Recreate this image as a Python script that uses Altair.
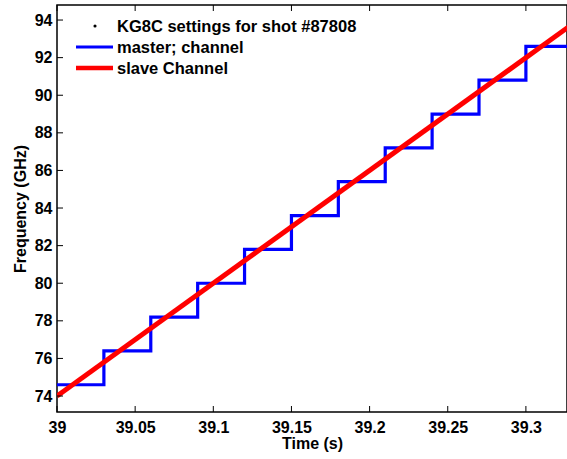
import altair as alt
import pandas as pd

# --- data ---
step_times = [39.00, 39.03, 39.06, 39.09, 39.12, 39.15, 39.18, 39.21, 39.24, 39.27, 39.30, 39.33]
master_freq = [74.6, 76.4, 78.2, 80.0, 81.8, 83.6, 85.4, 87.2, 89.0, 90.8, 92.6, 92.6]
slave_times = [39.00, 39.33]
slave_freq = [74.0, 93.8]
x_ticks = [39.0, 39.05, 39.1, 39.15, 39.2, 39.25, 39.3]
y_ticks = [74, 76, 78, 80, 82, 84, 86, 88, 90, 92, 94]
legend_labels = ["KG8C settings for shot #87808", "master; channel", "slave Channel"]

W, H = 510, 407
XDOM = [39.0, 39.3263]
YDOM = [73.15, 94.8]
FONT = "Liberation Sans"

master = pd.DataFrame({"t": step_times, "f": master_freq})
slave = pd.DataFrame({"t": slave_times, "f": slave_freq})
xt = pd.DataFrame({"t": x_ticks})
yt = pd.DataFrame({"f": y_ticks})

xscale = alt.Scale(domain=XDOM, nice=False, zero=False)
yscale = alt.Scale(domain=YDOM, nice=False, zero=False)

x_axis = alt.Axis(values=x_ticks, format="~g", labelPadding=7, title="Time (s)",
                  titlePadding=0, labelFlush=False)
y_axis = alt.Axis(values=y_ticks, format="d", labelPadding=5, title="Frequency (GHz)",
                  titlePadding=6)

blue = alt.Chart(master).mark_line(color="#0000FF", strokeWidth=3.2, interpolate="step-after",
                                   clip=True).encode(
    x=alt.X("t:Q", scale=xscale, axis=x_axis),
    y=alt.Y("f:Q", scale=yscale, axis=y_axis),
)
red = alt.Chart(slave).mark_line(color="#FF0000", strokeWidth=5, clip=True).encode(
    x=alt.X("t:Q", scale=xscale),
    y=alt.Y("f:Q", scale=yscale),
)

tick_bottom = alt.Chart(xt).mark_rule(color="black", strokeWidth=1).encode(
    x=alt.X("t:Q", scale=xscale), y=alt.value(H), y2=alt.value(H - 6))
tick_top = alt.Chart(xt).mark_rule(color="black", strokeWidth=1).encode(
    x=alt.X("t:Q", scale=xscale), y=alt.value(0), y2=alt.value(6))
tick_left = alt.Chart(yt).mark_rule(color="black", strokeWidth=1).encode(
    y=alt.Y("f:Q", scale=yscale), x=alt.value(0), x2=alt.value(6))

# legend (manual)
leg_dot = alt.Chart(pd.DataFrame({"l": [legend_labels[0]]})).mark_point(
    filled=True, color="black", size=10, shape="circle", opacity=1).encode(
    x=alt.value(38), y=alt.value(21))
leg_blue = alt.Chart(pd.DataFrame({"l": [legend_labels[1]]})).mark_rule(
    color="#0000FF", strokeWidth=3.2).encode(x=alt.value(19), x2=alt.value(56), y=alt.value(42))
leg_red = alt.Chart(pd.DataFrame({"l": [legend_labels[2]]})).mark_rule(
    color="#FF0000", strokeWidth=4.5).encode(x=alt.value(19), x2=alt.value(56), y=alt.value(63))

def leg_text(i, y):
    return alt.Chart(pd.DataFrame({"l": [legend_labels[i]]})).mark_text(
        align="left", baseline="middle", font=FONT, fontSize=16.5, fontWeight="bold",
        color="black").encode(text="l:N", x=alt.value(60), y=alt.value(y))

chart = alt.layer(
    blue, red, tick_bottom, tick_top, tick_left,
    leg_dot, leg_blue, leg_red, leg_text(0, 22), leg_text(1, 43), leg_text(2, 64),
).properties(
    width=W, height=H,
    padding={"left": 57, "top": 5, "right": 0, "bottom": 47},
    autosize=alt.AutoSizeParams(type="none"),
    background="white",
).configure_axis(
    ticks=False, domain=False, grid=False,
    labelFont=FONT, labelFontSize=16, labelFontWeight="bold", labelColor="black",
    titleFont=FONT, titleFontSize=16, titleFontWeight="bold", titleColor="black",
).configure_view(stroke="black", strokeWidth=1.5)

chart.save("out.html", embed_options={"renderer": "svg", "actions": False})
